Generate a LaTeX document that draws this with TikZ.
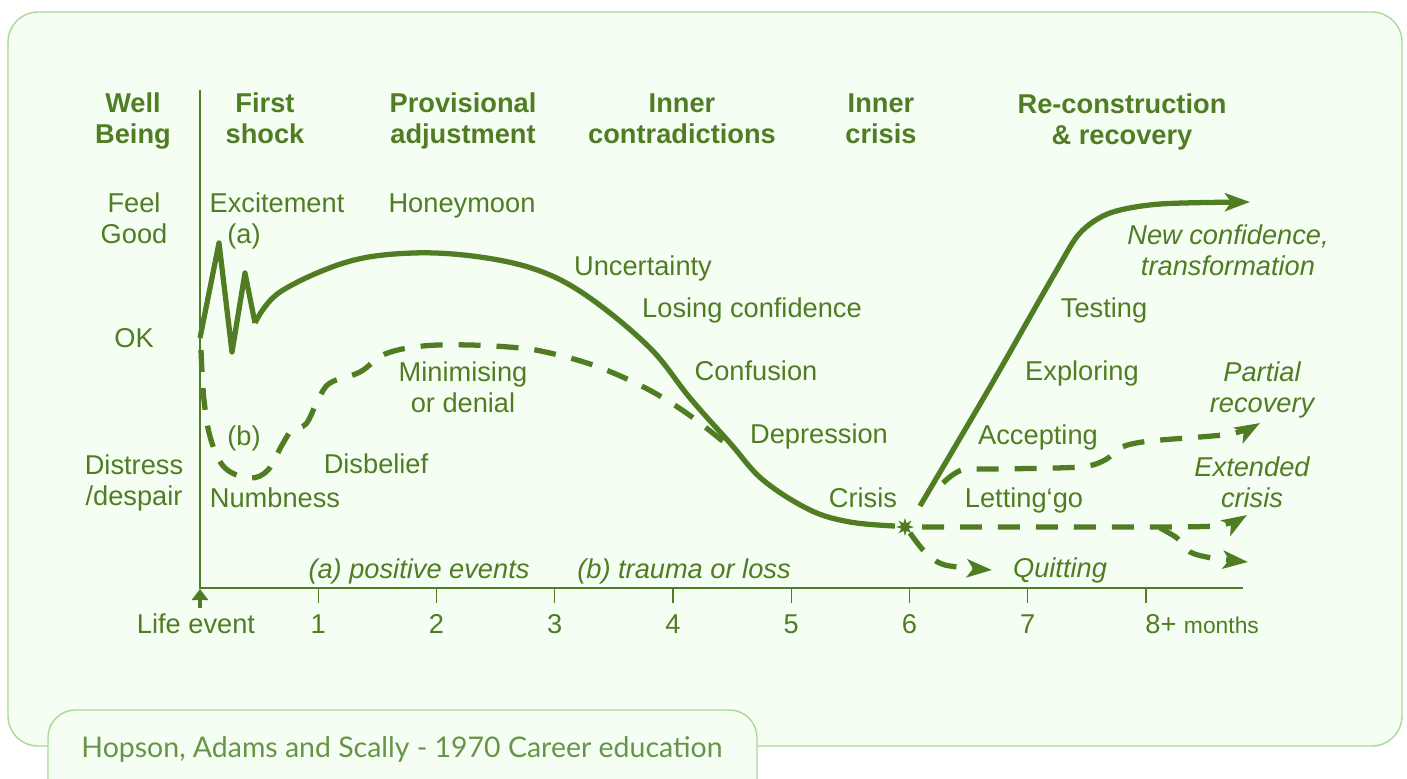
\documentclass[tikz,border=0pt]{standalone}
\usepackage{fontspec}
\setmainfont{Liberation Sans}
\newfontfamily\creditfont{Lato}
\usetikzlibrary{arrows.meta,shapes.geometric}

\definecolor{chartgreen}{RGB}{80,125,35}
\definecolor{panelfill}{RGB}{245,254,242}
\definecolor{framegreen}{RGB}{170,216,155}
\definecolor{creditgreen}{RGB}{104,148,72}

\begin{document}
\begin{tikzpicture}[x=0.02cm, y=-0.02cm,
    lbl/.style={anchor=base, inner sep=0pt, align=center, text=chartgreen,
        font=\fontsize{15.5}{17.6}\selectfont},
    head/.style={lbl, font=\fontsize{15.5}{17.6}\selectfont\bfseries},
    note/.style={lbl, font=\fontsize{15.5}{17.6}\selectfont\itshape},
    axis/.style={chartgreen, line width=0.8pt},
    curve/.style={chartgreen, line width=3pt, line join=round},
    dcurve/.style={curve, dash pattern=on 0.44cm off 0.32cm},
    tip/.style={-{Stealth[length=0.5cm, width=0.36cm, inset=0.12cm]}},
    frame/.style={draw=framegreen, fill=panelfill, line width=0.8pt}]

    \useasboundingbox (0,0) rectangle (1407,778);
    \clip (0,0) rectangle (1407,778);

    % panel and credit box
    \draw[frame, rounded corners=0.6cm] (8,12) rectangle (1402,746);
    \draw[frame, rounded corners=0.55cm] (48,710) rectangle (757,820);
    \node[anchor=base, inner sep=0pt, text=creditgreen, font=\creditfont\fontsize{16.2}{19}\selectfont]
        (credit) at (402,757) {Hopson, Adams and Scally - 1970 Career education};

    % axes
    \draw[axis] (200,90) -- (200,588) -- (1243,588);
    \foreach \t in {1,...,8}
        \draw[axis] ({200+118.25*\t},588) -- ++(0,15);
    \draw[chartgreen, line width=2.2pt, -{Triangle[length=0.22cm, width=0.32cm]}] (200,608) -- (200,589);

    \node[lbl] (event) at (196,633) {Life event};
    \foreach \t in {1,...,7}
        \node[lbl] (tick\t) at ({200+118.25*\t},633) {\t};
    \node[lbl, anchor=base west] (tick8) at (1145,633) {8+ {\fontsize{13}{15}\selectfont months}};

    % column headings (base = last line)
    \node[head] (wellbeing) at (133,143) {Well\\Being};
    \node[head] (firstshock) at (265,143) {First\\shock};
    \node[head] (provisional) at (463,143) {Provisional\\adjustment};
    \node[head] (contradictions) at (682,143) {Inner\\contradictions};
    \node[head] (innercrisis) at (881,143) {Inner\\crisis};
    \node[head] (reconstruction) at (1122,144) {Re-construction\\\& recovery};

    % well being scale
    \node[lbl] (feelgood) at (134,243) {Feel\\Good};
    \node[lbl] (ok) at (134,347) {OK};
    \node[lbl] (distress) at (134,505) {Distress\\/despair};

    % stages
    \node[lbl] (excitement) at (277,212) {Excitement};
    \node[lbl] (marka) at (244,243) {(a)};
    \node[lbl] (honeymoon) at (462,212) {Honeymoon};
    \node[lbl] (uncertainty) at (643,275) {Uncertainty};
    \node[lbl] (losing) at (752,317) {Losing confidence};
    \node[lbl] (confusion) at (756,380) {Confusion};
    \node[lbl] (depression) at (819,443) {Depression};
    \node[lbl] (crisis) at (863,507) {Crisis};
    \node[lbl] (minimising) at (463,412) {Minimising\\or denial};
    \node[lbl] (markb) at (244,445) {(b)};
    \node[lbl] (disbelief) at (376,473) {Disbelief};
    \node[lbl] (numbness) at (275,507) {Numbness};
    \node[note] (positive) at (419,578) {(a) positive events};
    \node[note] (trauma) at (684,578) {(b) trauma or loss};
    \node[lbl] (testing) at (1104,317) {Testing};
    \node[lbl] (exploring) at (1082,380) {Exploring};
    \node[lbl] (accepting) at (1038,444) {Accepting};
    \node[lbl] (lettinggo) at (1024,507) {Letting`go};
    \node[note] (quitting) at (1060,577) {Quitting};
    \node[note] (newconf) at (1228,275) {New confidence,\\transformation};
    \node[note] (partial) at (1262,412) {Partial\\recovery};
    \node[note] (extended) at (1252,507) {Extended\\crisis};

    % (a) positive events
    \draw[curve] plot coordinates { (200,338) (219,243) (232,352) (245,273) (255,323) };
    \draw[curve] plot [smooth, tension=0.6] coordinates { (255,323) (280,292) (347,262) (413,253)
        (480,257) (540,271) (590,298) (650,348) (690,398) (730,443) (763,480) (810,510) (850,522) (895,526) };

    % (b) trauma or loss
    \draw[dcurve] plot [smooth, tension=0.6] coordinates { (201,350) (204,400) (211,440) (225,468)
        (250,478) (268,470) (282,445) (292,430) (306,424) (318,400) (330,383) (360,372) (385,354)
        (423,346) (470,345) (520,348) (550,353) (590,364) (627,379) (660,396) (692,417) (725,443) };

    \node[star, star points=8, star point ratio=2.2, fill=chartgreen, minimum size=0.36cm, inner sep=0pt]
        (pivot) at (905,527) {};

    % ways out of the crisis
    \draw[curve, tip] plot [smooth, tension=0.5] coordinates { (920,506) (990,387) (1055,273)
        (1080,233) (1110,213) (1160,204) (1250,202) };
    \draw[dcurve, tip] plot [smooth, tension=0.5] coordinates { (943,483) (962,470) (1000,469)
        (1080,467) (1105,460) (1122,447) (1150,441) (1230,434) (1260,423) };
    \draw[dcurve, tip] plot [smooth, tension=0.4] coordinates { (922,527) (1100,527) (1215,526) (1247,515) };
    \draw[dcurve, tip] plot [smooth, tension=0.5] coordinates { (1160,528) (1177,538) (1190,552)
        (1212,558) (1248,562) };
    \draw[dcurve, tip] plot [smooth, tension=0.5] coordinates { (910,533) (925,552) (945,565) (992,570) };
\end{tikzpicture}
\end{document}
